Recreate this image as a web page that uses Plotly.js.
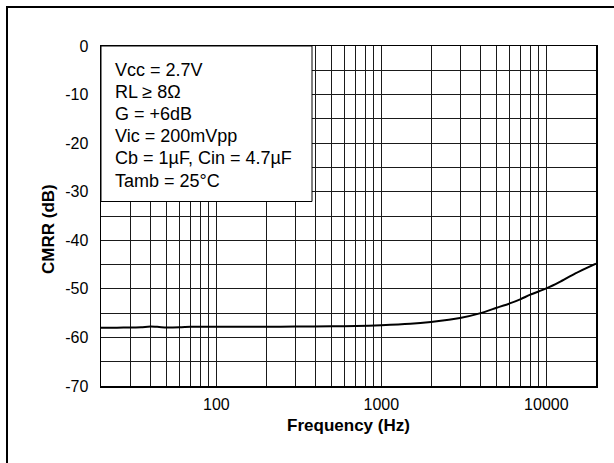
<!DOCTYPE html>
<html>
<head>
<meta charset="utf-8">
<script src="https://cdn.plot.ly/plotly-3.0.1.min.js"></script>
<style>
  html, body { margin: 0; padding: 0; background: #fff; overflow: hidden; }
  #wrap { position: relative; width: 614px; height: 463px; overflow: hidden; }
  #chart { width: 614px; height: 463px; }
  /* outer figure frame: continues past the right and bottom edges */
  #frame { position: absolute; left: 6px; top: 6px; width: 900px; height: 900px;
           border-left: 2.5px solid #000; border-top: 2.5px solid #000;
           pointer-events: none; z-index: 5; }
</style>
</head>
<body>
<div id="wrap"><div id="chart"></div><div id="frame"></div></div>
<script>
// Frequency (Hz) and CMRR (dB)
const freq = [20, 25, 30, 35, 40, 45, 50, 60, 70, 80, 100, 150, 200, 300, 500, 700, 1000, 1500, 2000, 3000, 4000, 5000, 6000, 7000, 8000, 10000, 12000, 15000, 20000];
const cmrr = [-58.0, -58.0, -57.95, -57.9, -57.75, -57.85, -57.95, -57.9, -57.8, -57.8, -57.8, -57.8, -57.8, -57.75, -57.7, -57.65, -57.5, -57.2, -56.8, -56.0, -55.0, -53.9, -53.0, -52.1, -51.2, -49.9, -48.6, -46.8, -44.8];

const xTickVals = [100, 1000, 10000];
const xTickText = ['100', '1000', '10000'];
const xMinorVals = [20, 30, 40, 50, 60, 70, 80, 90, 200, 300, 400, 500, 600, 700, 800, 900, 2000, 3000, 4000, 5000, 6000, 7000, 8000, 9000];
const yTickVals = [0, -10, -20, -30, -40, -50, -60, -70];
const yTickText = ['0', '-10', '-20', '-30', '-40', '-50', '-60', '-70'];

const conditions = ['Vcc = 2.7V', 'RL \u2265 8\u03A9', 'G = +6dB', 'Vic = 200mVpp', 'Cb = 1\u00B5F, Cin = 4.7\u00B5F', 'Tamb = 25\u00B0C'];

const FONT = 'Liberation Sans, Arial, Helvetica, sans-serif';

// pixel -> paper helpers (plot area: x 101..596, y 46..386)
const PL = 101, PW = 495, PB = 386, PH = 340;
const px2x = p => (p - PL) / PW;
const px2y = p => (PB - p) / PH;

const trace = {
  x: freq,
  y: cmrr,
  type: 'scatter',
  mode: 'lines',
  line: { color: '#000', width: 2, shape: 'spline', smoothing: 0.6 },
  hoverinfo: 'x+y'
};

const condAnnotations = conditions.map((t, i) => ({
  xref: 'paper', yref: 'paper',
  x: px2x(113), y: px2y(69.5 + i * 22.2),
  xanchor: 'left', yanchor: 'middle',
  text: t, align: 'left', showarrow: false,
  font: { family: FONT, size: 18, color: '#000' }
}));

const layout = {
  width: 614,
  height: 463,
  margin: { l: 101, r: 18, t: 46, b: 77, pad: 0 },
  paper_bgcolor: '#fff',
  plot_bgcolor: '#fff',
  showlegend: false,
  font: { family: FONT, size: 16, color: '#000' },
  xaxis: {
    type: 'log',
    range: [Math.log10(20), Math.log10(20000)],
    tickmode: 'array',
    tickvals: xTickVals,
    ticktext: xTickText,
    ticks: '',
    ticklabelstandoff: 3,
    showgrid: true,
    gridcolor: '#1a1a1a',
    gridwidth: 1,
    minor: { tickmode: 'array', tickvals: xMinorVals, showgrid: true, gridcolor: '#1a1a1a', gridwidth: 1, ticks: '' },
    showline: true,
    mirror: true,
    linecolor: '#000',
    linewidth: 1.5,
    zeroline: false,
    tickfont: { family: FONT, size: 16, color: '#000' },
    title: { text: '<b>Frequency (Hz)</b>', font: { family: FONT, size: 17, color: '#000' }, standoff: 7 },
    automargin: false
  },
  yaxis: {
    range: [-70, 0],
    tickmode: 'array',
    tickvals: yTickVals,
    ticktext: yTickText,
    ticks: '',
    ticklabelstandoff: 8,
    showgrid: true,
    gridcolor: '#1a1a1a',
    gridwidth: 1,
    minor: { dtick: 5, showgrid: true, gridcolor: '#1a1a1a', gridwidth: 1, ticks: '' },
    showline: true,
    mirror: true,
    linecolor: '#000',
    linewidth: 1.5,
    zeroline: false,
    tickfont: { family: FONT, size: 16, color: '#000' },
    automargin: false
  },
  annotations: condAnnotations.concat([
    {
      xref: 'paper', yref: 'paper',
      x: px2x(48), y: px2y(229),
      xanchor: 'center', yanchor: 'middle',
      text: '<b>CMRR (dB)</b>',
      textangle: -90,
      showarrow: false,
      font: { family: FONT, size: 17, color: '#000' }
    }
  ]),
  shapes: [
    {
      // conditions box
      type: 'rect', xref: 'paper', yref: 'paper',
      x0: px2x(101), x1: px2x(312),
      y0: px2y(201.5), y1: px2y(46),
      line: { color: '#000', width: 1 },
      fillcolor: '#fff',
      layer: 'above'
    }
  ]
};

Plotly.newPlot('chart', [trace], layout, { staticPlot: true, displayModeBar: false });
</script>
</body>
</html>
